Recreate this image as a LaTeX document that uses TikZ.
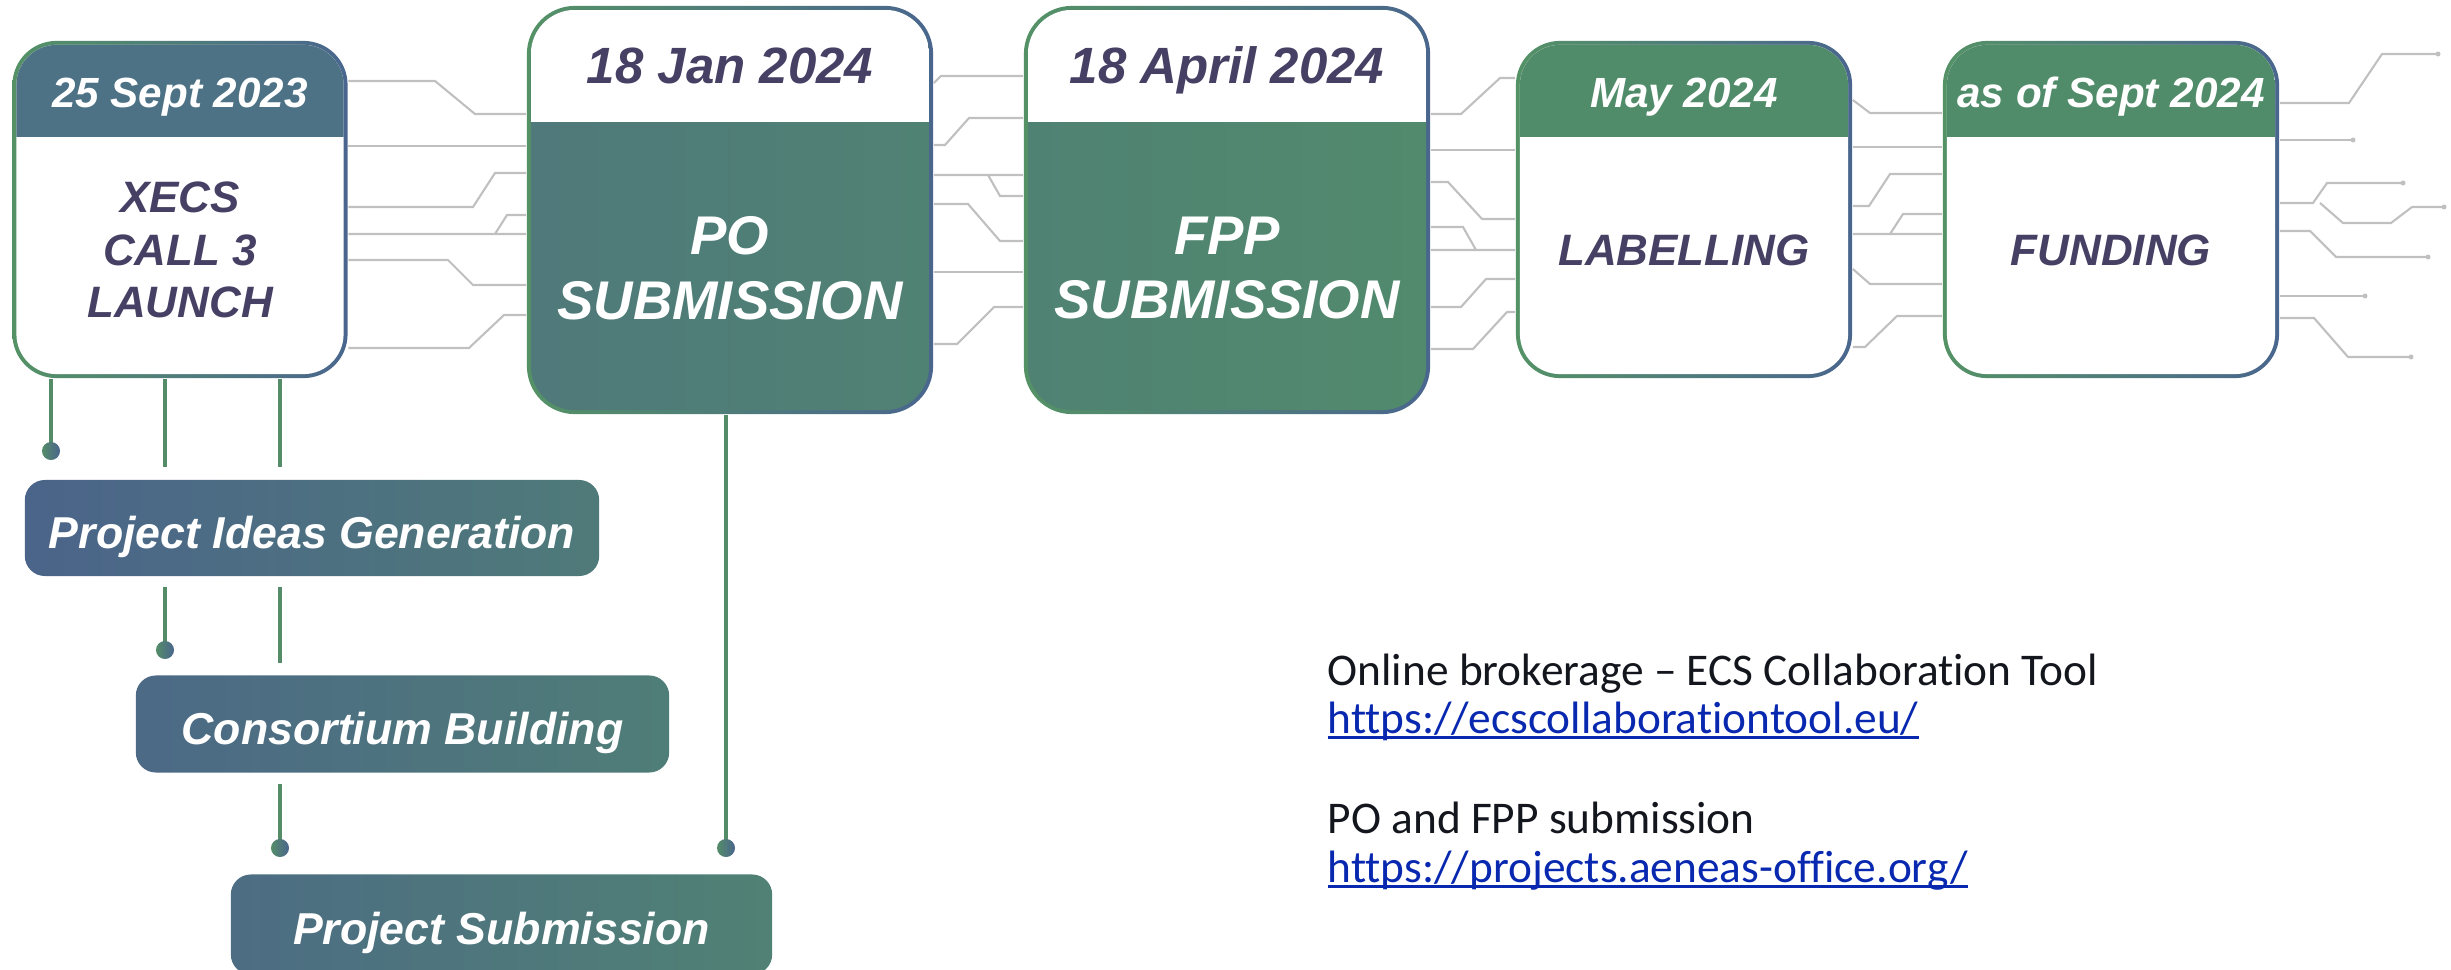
\documentclass[tikz,border=0pt]{standalone}
\usepackage{fontspec}
\setmainfont{Carlito}[Ligatures={NoCommon}]
\newfontfamily\boxfont{Liberation Sans}
\usepackage{xcolor}
\usepackage{tikz}
\definecolor{framegreen}{RGB}{84, 146, 102}
\definecolor{frameblue}{RGB}{74, 102, 142}
\definecolor{headblue}{RGB}{77, 114, 134}
\definecolor{headgreen}{RGB}{81, 140, 106}
\definecolor{inkblue}{RGB}{75, 100, 138}
\definecolor{inkteal}{RGB}{80, 130, 115}
\definecolor{fppgreen}{RGB}{81, 138, 109}
\definecolor{plumtext}{RGB}{70, 64, 100}
\definecolor{tracegray}{RGB}{192, 192, 192}
\definecolor{stemgreen}{RGB}{84, 140, 104}
\definecolor{linkblue}{RGB}{8, 40, 175}
\definecolor{bodytext}{RGB}{20, 22, 30}
\newcommand{\weblink}[1]{\setbox0\hbox{#1}\rlap{\rule[-1.6pt]{\wd0}{0.7pt}}\box0}

\begin{document}
\begin{tikzpicture}[x=0.01cm, y=-0.01cm,
    stageframe/.style={rounded corners=0.44cm, left color=framegreen, right color=frameblue, inner sep=0pt},
    stagecore/.style={rounded corners=0.40cm, inner sep=0pt},
    headband/.style 2 args={path picture={\fill[#1, sharp corners] (path picture bounding box.north west) rectangle ([yshift=-#2]path picture bounding box.north east);}},
    datetext/.style={inner sep=0pt, text height=10pt, text depth=0pt, font=\boxfont\bfseries\itshape\fontsize{12}{14}\selectfont},
    bigdate/.style={inner sep=0pt, text height=11pt, text depth=0pt, font=\boxfont\bfseries\itshape\fontsize{14.5}{17}\selectfont},
    stagename/.style={inner sep=0pt, align=center, font=\boxfont\bfseries\itshape\fontsize{12.5}{15}\selectfont},
    taskbox/.style={rounded corners=0.2cm, text=white, inner sep=0pt, text height=11.4pt, text depth=0pt, font=\boxfont\bfseries\itshape\fontsize{12.7}{15}\selectfont},
    linknote/.style={inner sep=0pt, text=bodytext, font=\fontsize{12.9}{15}\selectfont},
    stem/.style={stemgreen, line width=1pt},
    trace/.style={tracegray, line width=0.6pt},
    pin/.style={circle, inner sep=0pt, minimum size=0.18cm, left color=stemgreen, right color=frameblue},
    tip/.style={circle, fill=tracegray, inner sep=0pt, minimum size=0.05cm}]
    \path[use as bounding box, clip] (0,0) rectangle (2451,970);

    % Milestone boxes along the top
    \node[stageframe, minimum width=3.35cm, minimum height=3.37cm] (launch) at (180,209.5) {};
    \node[stagecore, fill=white, headband={headblue}{0.92cm}, minimum width=3.27cm, minimum height=3.29cm] (launchcore) at (launch.center) {};
    \node[datetext, text=white] (launchdate) at (180,89.5) {25 Sept 2023};
    \node[stagename, text=plumtext] (launchname) at (180,250) {XECS\\CALL 3\\LAUNCH};

    \node[stageframe, rounded corners=0.48cm, minimum width=4.06cm, minimum height=4.08cm] (po) at (730,210) {};
    \node[stagecore, rounded corners=0.44cm, left color=inkteal!70!inkblue, right color=inkteal, headband={white}{1.12cm}, minimum width=3.98cm, minimum height=4.0cm] (pocore) at (po.center) {};
    \node[bigdate, text=plumtext] (podate) at (730,64) {18 Jan 2024};
    \node[stagename, text=white, font=\boxfont\bfseries\itshape\fontsize{15.5}{18.4}\selectfont] (poname) at (730,268) {PO\\SUBMISSION};

    \node[stageframe, rounded corners=0.48cm, minimum width=4.06cm, minimum height=4.08cm] (fpp) at (1227,210) {};
    \node[stagecore, rounded corners=0.44cm, left color=inkteal, right color=fppgreen, headband={white}{1.12cm}, minimum width=3.98cm, minimum height=4.0cm] (fppcore) at (fpp.center) {};
    \node[bigdate, text=plumtext] (fppdate) at (1227,64) {18 April 2024};
    \node[stagename, text=white, font=\boxfont\bfseries\itshape\fontsize{15.5}{18.4}\selectfont] (fppname) at (1227,268) {FPP\\SUBMISSION};

    \node[stageframe, minimum width=3.36cm, minimum height=3.37cm] (may) at (1684,209.5) {};
    \node[stagecore, fill=white, headband={headgreen}{0.92cm}, minimum width=3.28cm, minimum height=3.29cm] (maycore) at (may.center) {};
    \node[datetext, text=white] (maydate) at (1684,89.5) {May 2024};
    \node[stagename, text=plumtext] (mayname) at (1684,250) {LABELLING};

    \node[stageframe, minimum width=3.36cm, minimum height=3.37cm] (sept) at (2111,209.5) {};
    \node[stagecore, fill=white, headband={headgreen}{0.92cm}, minimum width=3.28cm, minimum height=3.29cm] (septcore) at (sept.center) {};
    \node[datetext, text=white] (septdate) at (2111,89.5) {as of Sept 2024};
    \node[stagename, text=plumtext] (septname) at (2111,250) {FUNDING};

    % Circuit traces between the milestones
    \draw[trace] (launch.east |- 0,81) -- (435,81) -- (475,114) -- (po.west |- 0,114);
    \draw[trace] (launch.east |- 0,146) -- (po.west |- 0,146);
    \draw[trace] (launch.east |- 0,207) -- (473,207) -- (495,173) -- (po.west |- 0,173);
    \draw[trace] (launch.east |- 0,234) -- (po.west |- 0,234) (495,234) -- (507,215) -- (po.west |- 0,215);
    \draw[trace] (launch.east |- 0,260) -- (448,260) -- (473,285) -- (po.west |- 0,285);
    \draw[trace] (launch.east |- 0,348) -- (469,348) -- (504,315) -- (po.west |- 0,315);

    \draw[trace] (po.east |- 0,83) -- (941,76) -- (fpp.west |- 0,76);
    \draw[trace] (po.east |- 0,145) -- (945,145) -- (969,118) -- (fpp.west |- 0,118);
    \draw[trace] (po.east |- 0,175) -- (fpp.west |- 0,175) (988,175) -- (1000,196) -- (fpp.west |- 0,196);
    \draw[trace] (po.east |- 0,204) -- (968,204) -- (1000,241) -- (fpp.west |- 0,241);
    \draw[trace] (po.east |- 0,272) -- (fpp.west |- 0,272);
    \draw[trace] (po.east |- 0,344) -- (957,344) -- (994,307) -- (fpp.west |- 0,307);

    \draw[trace] (fpp.east |- 0,114) -- (1461,114) -- (1500,78) -- (may.west |- 0,78);
    \draw[trace] (fpp.east |- 0,150) -- (may.west |- 0,150);
    \draw[trace] (fpp.east |- 0,182) -- (1448,182) -- (1482,219) -- (may.west |- 0,219);
    \draw[trace] (fpp.east |- 0,227) -- (1463,227) -- (1476,250) (fpp.east |- 0,250) -- (may.west |- 0,250);
    \draw[trace] (fpp.east |- 0,307) -- (1461,307) -- (1486,279) -- (may.west |- 0,279);
    \draw[trace] (fpp.east |- 0,349) -- (1473,349) -- (1507,312) -- (may.west |- 0,312);

    \draw[trace] (may.east |- 0,100) -- (1870,113) -- (sept.west |- 0,113);
    \draw[trace] (may.east |- 0,147) -- (sept.west |- 0,147);
    \draw[trace] (may.east |- 0,206) -- (1869,206) -- (1890,174) -- (sept.west |- 0,174);
    \draw[trace] (may.east |- 0,234) -- (sept.west |- 0,234) (1890,234) -- (1903,214) -- (sept.west |- 0,214);
    \draw[trace] (may.east |- 0,269) -- (1870,284) -- (sept.west |- 0,284);
    \draw[trace] (may.east |- 0,347) -- (1865,347) -- (1897,316) -- (sept.west |- 0,316);

    % Open traces leaving the last milestone
    \draw[trace] (sept.east |- 0,103) -- (2349,103) -- (2382,54) -- (2438,54) node[tip] (tipa) {};
    \draw[trace] (sept.east |- 0,140) -- (2353,140) node[tip] (tipb) {};
    \draw[trace] (sept.east |- 0,203) -- (2313,203) -- (2327,183) -- (2403,183) node[tip] (tipc) {};
    \draw[trace] (2320,203) -- (2343,223) -- (2391,223) -- (2412,207) -- (2444,207) node[tip] (tipd) {};
    \draw[trace] (sept.east |- 0,231) -- (2310,231) -- (2336,257) -- (2428,257) node[tip] (tipe) {};
    \draw[trace] (sept.east |- 0,296) -- (2365,296) node[tip] (tipf) {};
    \draw[trace] (sept.east |- 0,318) -- (2314,318) -- (2348,357) -- (2411,357) node[tip] (tipg) {};

    % Activity boxes below the launch
    \node[taskbox, left color=inkblue, right color=inkteal!75!inkblue, minimum width=5.74cm, minimum height=0.96cm] (ideas) at (312,528) {Project Ideas Generation};
    \node[taskbox, left color=inkteal!17!inkblue, right color=inkteal!84!inkblue, minimum width=5.33cm, minimum height=0.97cm] (consortium) at (402.5,724) {Consortium Building};
    \node[taskbox, left color=inkteal!29!inkblue, right color=inkteal!97!inkblue, minimum width=5.41cm, minimum height=1.0cm] (projsub) at (501.5,924.5) {Project Submission};

    % Green stems ending in pins
    \coordinate (ideaspin) at (51,451);
    \coordinate (consortiumpin) at (165,650);
    \coordinate (projpin) at (280,848);
    \coordinate (popin) at (726,848);
    \draw[stem] (launch.south -| ideaspin) -- (ideaspin);
    \draw[stem] (launch.south -| consortiumpin) -- ([yshift=3.4pt]ideas.north -| consortiumpin);
    \draw[stem] ([yshift=-3pt]ideas.south -| consortiumpin) -- (consortiumpin);
    \draw[stem] (launch.south -| projpin) -- ([yshift=3.4pt]ideas.north -| projpin);
    \draw[stem] ([yshift=-3pt]ideas.south -| projpin) -- ([yshift=3.4pt]consortium.north -| projpin);
    \draw[stem] ([yshift=-3pt]consortium.south -| projpin) -- (projpin);
    \draw[stem] (po.south -| popin) -- (popin);
    \node[pin] (ideasdot) at (ideaspin) {};
    \node[pin] (consortiumdot) at (consortiumpin) {};
    \node[pin] (projdot) at (projpin) {};
    \node[pin] (podot) at (popin) {};

    % Submission portals
    \node[linknote, anchor=base west] (brokerage) at (1327,685) {Online brokerage – ECS Collaboration Tool};
    \node[linknote, text=linkblue, anchor=base west] (brokeragelink) at (1327,733) {\weblink{https://ecscollaborationtool.eu/}};
    \node[linknote, anchor=base west] (portal) at (1327,833) {PO and FPP submission};
    \node[linknote, text=linkblue, anchor=base west] (portallink) at (1327,882) {\weblink{https://projects.aeneas-office.org/}};
\end{tikzpicture}
\end{document}
